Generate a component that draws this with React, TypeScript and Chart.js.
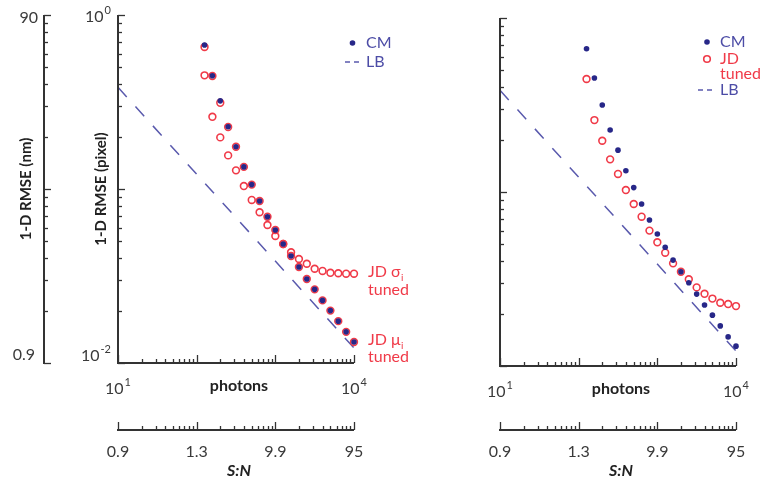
import React, { useEffect, useRef } from "react";
import { Chart, registerables } from "chart.js";
Chart.register(...registerables);

// ---------- data ----------
const photons = [125.9, 158.5, 199.5, 251.2, 316.2, 398.1, 501.2, 631.0, 794.3, 1000, 1259, 1585, 1995, 2512, 3162, 3981, 5012, 6310, 7943, 10000];

const cmLeft = [0.672, 0.448, 0.321, 0.228, 0.175, 0.134, 0.106, 0.0853, 0.0693, 0.0581, 0.0483, 0.0412, 0.0356, 0.0304, 0.0265, 0.0229, 0.0200, 0.0174, 0.0151, 0.0132];
const jdMuLeft = [0.655, 0.446, 0.313, 0.227, 0.175, 0.134, 0.106, 0.0853, 0.0693, 0.0581, 0.0483, 0.0412, 0.0356, 0.0304, 0.0265, 0.0229, 0.0200, 0.0174, 0.0151, 0.0132];
const jdSigmaLeft = [0.450, 0.260, 0.198, 0.156, 0.128, 0.104, 0.0865, 0.0735, 0.0621, 0.0537, 0.0483, 0.0433, 0.0396, 0.0372, 0.0348, 0.0338, 0.0330, 0.0328, 0.0326, 0.0326];

const cmRight = [0.666, 0.452, 0.316, 0.227, 0.174, 0.1325, 0.106, 0.0853, 0.0690, 0.0574, 0.0481, 0.0406, 0.0348, 0.0301, 0.0259, 0.0224, 0.0196, 0.0170, 0.0147, 0.0130];
const jdRight = [0.446, 0.259, 0.197, 0.154, 0.127, 0.1026, 0.0853, 0.0721, 0.0600, 0.0514, 0.0448, 0.0389, 0.0348, 0.0315, 0.0283, 0.0260, 0.0244, 0.0231, 0.0227, 0.0221];

const lbPhotons = [10, 10000];
const lbValues = [0.384, 0.0122];

const xMajorTicks = [10, 100, 1000, 10000];
const xTickLabels = [["10", "1"], ["10", "4"]]; // at 10 and 10000
const snTickLabels = ["0.9", "1.3", "9.9", "95"];
const yTickLabels = [["10", "0"], ["10", "-2"]];
const nmTickLabels = ["90", "0.9"];
const nmPerPixel = 90;

// ---------- style ----------
const BLUE = "#272788";
const RED = "#f03a48";
const LB = "#5a5aad";
const LEG_BLUE = "#4c4ca6";
const AXIS = "#333333";
const TXT = "#3a3a3a";
const FONT = "Lato, 'Open Sans', sans-serif";

type PanelCfg = {
  left: number; right: number; top: number; bottom: number;
  snY: number;
  leftPanel: boolean;
};

function logTickVals(min: number, max: number) {
  const out: { v: number; major: boolean }[] = [];
  let d = Math.pow(10, Math.floor(Math.log10(min) + 1e-9));
  while (d <= max * 1.0001) {
    for (let m = 1; m <= 9; m++) {
      const v = m * d;
      if (v < min * 0.9999 || v > max * 1.0001) continue;
      out.push({ v, major: m === 1 });
    }
    d *= 10;
  }
  return out;
}

function drawPow(ctx: CanvasRenderingContext2D, base: string, exp: string, cx: number, cy: number, align: "center" | "right" = "center") {
  ctx.save();
  ctx.textBaseline = "middle";
  ctx.textAlign = "left";
  ctx.font = `16px ${FONT}`;
  const wb = ctx.measureText(base).width;
  ctx.font = `11px ${FONT}`;
  const we = ctx.measureText(exp).width;
  const total = wb + we + 1;
  const x0 = align === "center" ? cx - total / 2 : cx - total;
  ctx.font = `16px ${FONT}`;
  ctx.fillText(base, x0, cy);
  ctx.font = `11px ${FONT}`;
  ctx.fillText(exp, x0 + wb + 1, cy - 7);
  ctx.restore();
}

function drawSubText(ctx: CanvasRenderingContext2D, main: string, sub: string, x: number, y: number) {
  ctx.save();
  ctx.textBaseline = "middle";
  ctx.textAlign = "left";
  ctx.font = `16px ${FONT}`;
  ctx.fillText(main, x, y);
  const w = ctx.measureText(main).width;
  ctx.font = `10px ${FONT}`;
  ctx.fillText(sub, x + w + 0.5, y + 6);
  ctx.restore();
}

function makePlugin(cfg: PanelCfg) {
  return {
    id: "panelAxes",
    afterDraw(chart: any) {
      const ctx: CanvasRenderingContext2D = chart.ctx;
      const xs = chart.scales.x;
      const ys = chart.scales.y;
      const { left, right, top, bottom } = chart.chartArea;
      ctx.save();
      ctx.strokeStyle = AXIS;
      ctx.fillStyle = TXT;

      // y axis drawn on the pixel scale
      const yAxis = (ax: number) => {
        ctx.lineWidth = 2;
        ctx.beginPath();
        ctx.moveTo(ax, top);
        ctx.lineTo(ax, bottom + 1);
        ctx.stroke();
        ctx.lineWidth = 1.3;
        for (const t of logTickVals(0.01, 1)) {
          const py = Math.round(ys.getPixelForValue(t.v)) + 0.5;
          ctx.beginPath();
          ctx.moveTo(ax, py);
          ctx.lineTo(ax + (t.major ? 7 : 4), py);
          ctx.stroke();
        }
      };
      yAxis(left);

      // x axes (photons and S:N)
      const xAxis = (ay: number) => {
        ctx.lineWidth = 2;
        ctx.beginPath();
        ctx.moveTo(left - 1, ay);
        ctx.lineTo(right, ay);
        ctx.stroke();
        ctx.lineWidth = 1.3;
        for (const t of logTickVals(10, 10000)) {
          const px = Math.round(xs.getPixelForValue(t.v)) + 0.5;
          ctx.beginPath();
          ctx.moveTo(px, ay);
          ctx.lineTo(px, ay - (t.major ? 8 : 4));
          ctx.stroke();
        }
      };
      xAxis(bottom);
      xAxis(cfg.snY);

      // photon tick labels
      ctx.fillStyle = TXT;
      drawPow(ctx, xTickLabels[0][0], xTickLabels[0][1], xs.getPixelForValue(xMajorTicks[0]), bottom + 26);
      drawPow(ctx, xTickLabels[1][0], xTickLabels[1][1], xs.getPixelForValue(xMajorTicks[3]), bottom + 26);
      ctx.font = `bold 16px ${FONT}`;
      ctx.textAlign = "center";
      ctx.textBaseline = "middle";
      ctx.fillStyle = "#222";
      ctx.fillText("photons", (left + right) / 2 + 3, bottom + 23);

      // S:N labels
      ctx.font = `16px ${FONT}`;
      ctx.fillStyle = TXT;
      snTickLabels.forEach((lab, i) => {
        ctx.fillText(lab, xs.getPixelForValue(xMajorTicks[i]), cfg.snY + 22);
      });
      ctx.font = `italic bold 16px ${FONT}`;
      ctx.fillStyle = "#222";
      ctx.fillText("S:N", (left + right) / 2 + 3, cfg.snY + 41);

      if (cfg.leftPanel) {
        // y tick labels
        ctx.fillStyle = TXT;
        drawPow(ctx, yTickLabels[0][0], yTickLabels[0][1], left - 7, top + 2, "right");
        drawPow(ctx, yTickLabels[1][0], yTickLabels[1][1], left - 7, bottom - 7, "right");
        // nm axis (same positions as pixel scale, value × nmPerPixel)
        const nmX = 44;
        ctx.strokeStyle = AXIS;
        yAxis(nmX);
        ctx.font = `16px ${FONT}`;
        ctx.textAlign = "right";
        ctx.textBaseline = "middle";
        ctx.fillStyle = TXT;
        ctx.fillText(nmTickLabels[0], nmX - 6, ys.getPixelForValue(90 / nmPerPixel) + 3);
        ctx.fillText(nmTickLabels[1], nmX - 9, ys.getPixelForValue(0.9 / nmPerPixel) - 8);
        // titles
        ctx.font = `bold 15px ${FONT}`;
        ctx.textAlign = "center";
        ctx.fillStyle = "#222";
        ctx.save();
        ctx.translate(26, 189);
        ctx.rotate(-Math.PI / 2);
        ctx.fillText("1-D RMSE (nm)", 0, 0);
        ctx.restore();
        ctx.save();
        ctx.translate(101, 189);
        ctx.rotate(-Math.PI / 2);
        ctx.fillText("1-D RMSE (pixel)", 0, 0);
        ctx.restore();

        // legend
        ctx.fillStyle = BLUE;
        ctx.beginPath();
        ctx.arc(352.5, 43, 2.8, 0, Math.PI * 2);
        ctx.fill();
        ctx.strokeStyle = LB;
        ctx.lineWidth = 1.5;
        ctx.beginPath();
        ctx.moveTo(345, 62); ctx.lineTo(350, 62);
        ctx.moveTo(354, 62); ctx.lineTo(359, 62);
        ctx.stroke();
        ctx.fillStyle = LEG_BLUE;
        ctx.font = `16px ${FONT}`;
        ctx.textAlign = "left";
        ctx.fillText("CM", 366, 43);
        ctx.fillText("LB", 366, 62);
        ctx.fillStyle = RED;
        drawSubText(ctx, "JD σ", "i", 368, 272);
        ctx.font = `16px ${FONT}`;
        ctx.fillText("tuned", 368, 290);
        drawSubText(ctx, "JD μ", "i", 368, 340);
        ctx.font = `16px ${FONT}`;
        ctx.fillText("tuned", 368, 357);
      } else {
        // legend right
        ctx.fillStyle = BLUE;
        ctx.beginPath();
        ctx.arc(707, 42, 2.8, 0, Math.PI * 2);
        ctx.fill();
        ctx.strokeStyle = RED;
        ctx.lineWidth = 1.6;
        ctx.beginPath();
        ctx.arc(707, 59, 3.3, 0, Math.PI * 2);
        ctx.stroke();
        ctx.strokeStyle = LB;
        ctx.lineWidth = 1.5;
        ctx.beginPath();
        ctx.moveTo(698, 90); ctx.lineTo(703, 90);
        ctx.moveTo(707, 90); ctx.lineTo(712, 90);
        ctx.stroke();
        ctx.font = `16px ${FONT}`;
        ctx.textAlign = "left";
        ctx.textBaseline = "middle";
        ctx.fillStyle = LEG_BLUE;
        ctx.fillText("CM", 720, 42);
        ctx.fillText("LB", 720, 90);
        ctx.fillStyle = RED;
        ctx.fillText("JD", 720, 59);
        ctx.fillText("tuned", 720, 74);
      }
      ctx.restore();
    },
  };
}

function lbDataset() {
  return {
    label: "LB",
    data: lbPhotons.map((x, i) => ({ x, y: lbValues[i] })),
    showLine: true,
    borderColor: LB,
    borderWidth: 1.5,
    borderDash: [13, 13],
    pointRadius: 0,
    clip: false,
  };
}

function cmDataset(vals: number[]) {
  return {
    label: "CM",
    data: photons.map((x, i) => ({ x, y: vals[i] })),
    pointRadius: 2.8,
    pointBorderWidth: 0,
    pointBackgroundColor: BLUE,
    pointBorderColor: BLUE,
    showLine: false,
    clip: false,
  };
}

function ringDataset(label: string, vals: number[]) {
  return {
    label,
    data: photons.map((x, i) => ({ x, y: vals[i] })),
    pointRadius: 3.4,
    pointBorderWidth: 1.6,
    pointBackgroundColor: "rgba(255,255,255,0)",
    pointBorderColor: RED,
    showLine: false,
    clip: false,
  };
}

function makeConfig(datasets: any[], cfg: PanelCfg, W: number, H: number): any {
  return {
    type: "scatter",
    data: { datasets },
    options: {
      responsive: false,
      animation: false,
      events: [],
      layout: {
        padding: { left: cfg.left, right: W - cfg.right, top: cfg.top, bottom: H - cfg.bottom },
      },
      plugins: { legend: { display: false }, tooltip: { enabled: false } },
      scales: {
        x: { type: "logarithmic", min: 10, max: 10000, display: false },
        y: { type: "logarithmic", min: 0.01, max: 1, display: false },
      },
    },
    plugins: [makePlugin(cfg)],
  };
}

export default function App() {
  const ref1 = useRef<HTMLCanvasElement>(null);
  const ref2 = useRef<HTMLCanvasElement>(null);
  const W = 769, H = 488;

  useEffect(() => {
    const leftCfg: PanelCfg = { left: 118, right: 354, top: 15, bottom: 363, snY: 430, leftPanel: true };
    const rightCfg: PanelCfg = { left: 500, right: 736, top: 18, bottom: 366, snY: 430, leftPanel: false };
    const c1 = new Chart(ref1.current!, makeConfig([
      cmDataset(cmLeft),
      ringDataset("JD μi tuned", jdMuLeft),
      ringDataset("JD σi tuned", jdSigmaLeft),
      lbDataset(),
    ], leftCfg, W, H));
    const c2 = new Chart(ref2.current!, makeConfig([
      cmDataset(cmRight),
      ringDataset("JD tuned", jdRight),
      lbDataset(),
    ], rightCfg, W, H));
    return () => { c1.destroy(); c2.destroy(); };
  }, []);

  const st: React.CSSProperties = { position: "absolute", left: 0, top: 0, width: W, height: H };
  return (
    <div style={{ position: "fixed", left: 0, top: 0, width: W, height: H, background: "#fff" }}>
      <canvas ref={ref1} width={W} height={H} style={st} />
      <canvas ref={ref2} width={W} height={H} style={st} />
    </div>
  );
}
